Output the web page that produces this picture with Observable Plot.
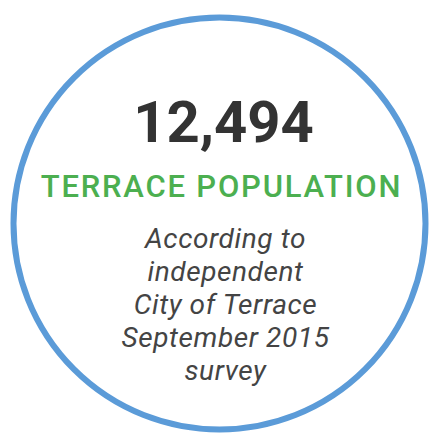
<!DOCTYPE html>
<html>
<head>
<meta charset="utf-8">
<script src="https://cdn.jsdelivr.net/npm/d3@7"></script>
<script src="https://cdn.jsdelivr.net/npm/@observablehq/plot@0.6"></script>
<style>
  html, body { margin: 0; padding: 0; background: #ffffff; }
  #chart svg { display: block; }
</style>
</head>
<body>
<div id="chart"></div>
<script>
const headline = ["12,494"];
const label = ["TERRACE POPULATION"];
const noteLines = ["According to", "independent", "City of Terrace", "September 2015", "survey"];

const W = 435, H = 437;
const cx = 219, cy = 223, R = 206;

const chart = Plot.plot({
  width: W,
  height: H,
  margin: 0,
  style: { background: "#ffffff", fontFamily: "Roboto, sans-serif" },
  x: { domain: [0, W], range: [0, W], axis: null },
  y: { domain: [0, H], range: [0, H], axis: null },
  marks: [
    Plot.dot([0], { x: () => cx, y: () => cy, r: R, stroke: "#5b9bd8", strokeWidth: 6, fill: "none" }),
    Plot.text(headline, {
      x: () => 223, y: () => 141, text: d => d,
      fontSize: 58, fontWeight: 700, fill: "#333333",
      textAnchor: "middle", lineAnchor: "bottom", fontFamily: "Roboto"
    }),
    Plot.text(label, {
      x: () => 221, y: () => 196, text: d => d,
      fontSize: 31, fontWeight: 500, fill: "#4caf50",
      textAnchor: "middle", lineAnchor: "bottom", fontFamily: "Roboto",
      style: "letter-spacing: 1.8px"
    }),
    Plot.text(noteLines, {
      x: () => 225, y: (d, i) => 247 + i * 33, text: d => d,
      fontSize: 28, fontStyle: "italic", fill: "#444444",
      textAnchor: "middle", lineAnchor: "bottom", fontFamily: "Roboto"
    })
  ]
});
document.getElementById("chart").appendChild(chart);
// letter-spacing for the label
chart.querySelectorAll("text").forEach(t => {
  if (t.textContent === label[0]) t.setAttribute("letter-spacing", "1.8");
  if (noteLines.includes(t.textContent)) t.setAttribute("letter-spacing", "0.6");
});
</script>
</body>
</html>
